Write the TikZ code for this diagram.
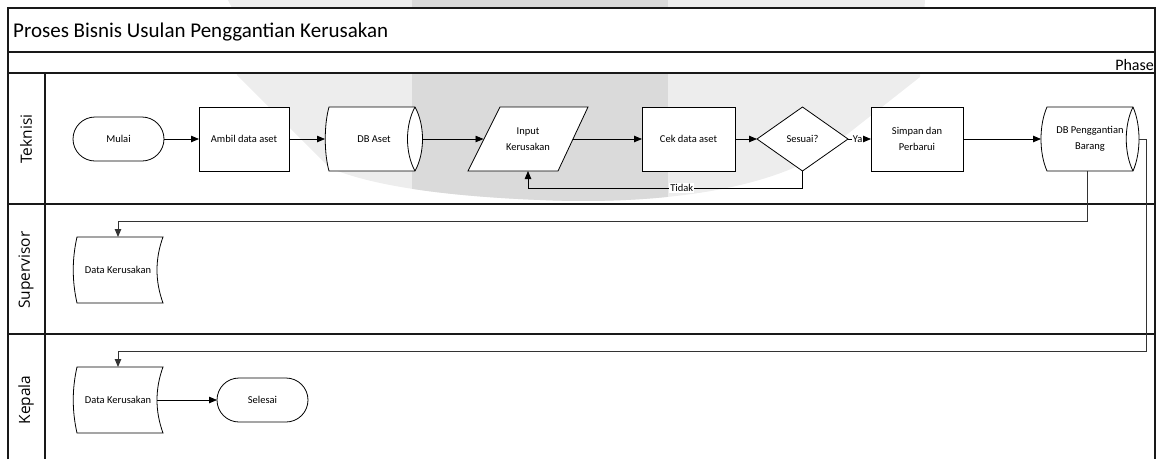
\documentclass[tikz,border=0pt]{standalone}
\usepackage{fontspec}
\setmainfont{Carlito}
\newfontfamily\lanefont{Open Sans}
\usetikzlibrary{arrows.meta}
\definecolor{wmlight}{HTML}{EDEDED}
\definecolor{wmdark}{HTML}{DADADA}
\tikzset{
  lane/.style={line width=1.3pt, draw=black!90},
  shp/.style={draw=black, line width=0.8pt, fill=white},
  txt/.style={font=\fontsize{10.5}{15.5}\selectfont, align=center, inner sep=0pt, outer sep=0pt},
  proc/.style={txt, shp, minimum width=#1, minimum height=64pt},
  term/.style={txt, shp, rounded corners=22pt, minimum width=91pt, minimum height=44pt},
  flow/.style={line width=0.8pt, draw=black, -{Triangle[length=8pt,width=6.5pt]}},
  far/.style={line width=0.9pt, draw=black!80, -{Triangle[length=8pt,width=6.5pt]}},
  lbl/.style={fill=white, inner sep=1pt, font=\fontsize{10.5}{12}\selectfont},
  lanelbl/.style={rotate=90, font=\lanefont\fontsize{15.5}{17}\selectfont, inner sep=0pt}
}
\begin{document}
\begin{tikzpicture}[x=1pt,y=-1pt]
\useasboundingbox (0,0) rectangle (1163,459);
% watermark
\def\wmpath{(228,0) -- (925,0) -- (920,77) -- (840,140) .. controls (780,192) and (650,205) .. (540,200) .. controls (440,196) and (370,185) .. (330,168) -- (237,75) -- (232,8) -- cycle}
\fill[wmlight] \wmpath;
\begin{scope}
  \clip \wmpath;
  \fill[wmdark] (412,0) rectangle (668,210);
\end{scope}
% frame
\fill[white] (8,8) rectangle (1155,73);
\draw[lane] (8,459) -- (8,8) -- (1155,8) -- (1155,459);
\draw[lane] (8,52) -- (1155,52);
\draw[lane] (8,73) -- (1155,73);
\draw[lane] (8,204) -- (1155,204);
\draw[lane] (8,334) -- (1155,334);
\draw[lane] (45,73) -- (45,459);
\node[anchor=base west, font=\fontsize{21}{24}\selectfont, inner sep=0pt] (title) at (13,37) {Proses Bisnis Usulan Penggantian Kerusakan};
\node[anchor=base east, font=\fontsize{16}{18}\selectfont, inner sep=0pt] (phase) at (1154,70) {Phase};
\node[lanelbl] (l1) at (26,139) {Teknisi};
\node[lanelbl] (l2) at (26,270) {Supervisor};
\node[lanelbl] (l3) at (26,400) {Kepala};
% special shape outlines
\coordinate (cdba) at (374,139);
\draw[shp, shift={(cdba)}] (-45,-32) -- (41,-32) .. controls (51,-14) and (51,14) .. (41,32) -- (-45,32) .. controls (-50,14) and (-50,-14) .. (-45,-32) -- cycle;
\draw[line width=0.8pt, shift={(cdba)}] (41,-32) .. controls (31,-14) and (31,14) .. (41,32);
\coordinate (cinp) at (528,139);
\draw[shp, shift={(cinp)}] (-28,-32) -- (60,-32) -- (30,32) -- (-60,32) -- cycle;
\coordinate (cses) at (802.5,139);
\draw[shp, shift={(cses)}] (0,-32) -- (45.5,0) -- (0,32) -- (-45.5,0) -- cycle;
\coordinate (cdbp) at (1090,139);
\draw[shp, shift={(cdbp)}] (-43,-32) -- (43,-32) .. controls (51,-14) and (51,14) .. (43,32) -- (-43,32) .. controls (-51,14) and (-51,-14) .. (-43,-32) -- cycle;
\draw[line width=0.8pt, shift={(cdbp)}] (43,-32) .. controls (34,-14) and (34,14) .. (43,32);
\coordinate (cdk1) at (118,270);
\draw[shp, shift={(cdk1)}] (-41,-33) -- (45,-33) .. controls (37,-11) and (37,11) .. (45,33) -- (-41,33) .. controls (-46,11) and (-46,-11) .. (-41,-33) -- cycle;
\coordinate (cdk2) at (118,400);
\draw[shp, shift={(cdk2)}] (-41,-33) -- (45,-33) .. controls (37,-11) and (37,11) .. (45,33) -- (-41,33) .. controls (-46,11) and (-46,-11) .. (-41,-33) -- cycle;
% nodes
\node[term] (mulai) at (118.5,139) {Mulai};
\node[proc=90pt] (ambil) at (244,139) {Ambil data aset};
\node[txt, minimum width=98pt, minimum height=64pt] (dbaset) at (cdba) {DB Aset};
\node[txt, minimum width=89pt, minimum height=64pt] (inp) at (cinp) {Input\\Kerusakan};
\node[proc=93pt] (cek) at (688.5,139) {Cek data aset};
\node[txt, minimum width=91pt, minimum height=64pt] (ses) at (cses) {Sesuai?};
\node[proc=92pt] (simpan) at (917,139) {Simpan dan\\Perbarui};
\node[txt, minimum width=98pt, minimum height=64pt] (dbpg) at (cdbp) {DB Penggantian\\Barang};
\node[txt, minimum width=90pt, minimum height=66pt] (dk1) at (cdk1) {Data Kerusakan};
\node[txt, minimum width=90pt, minimum height=66pt] (dk2) at (cdk2) {Data Kerusakan};
\node[term] (selesai) at (262.5,400) {Selesai};
\coordinate (r1) at (1146,351);
% connectors
\draw[flow] (mulai.east) -- (ambil.west);
\draw[flow] (ambil.east) -- (dbaset.west);
\draw[flow] (dbaset.east) -- (inp.west);
\draw[flow] (inp.east) -- (cek.west);
\draw[flow] (cek.east) -- (ses.west);
\draw[flow] (ses.east) -- node[lbl, pos=0.42] {Ya} (simpan.west);
\draw[flow] (simpan.east) -- (dbpg.west);
\draw[flow] (ses.south) -- ++(0,17) -| node[lbl, pos=0.22] {Tidak} (inp.south);
\draw[far] ([xshift=-3pt]dbpg.south) -- ++(0,50) -| (dk1.north);
\draw[far] (dbpg.east) -| (r1) -| (dk2.north);
\draw[flow] ([xshift=-6pt]dk2.east) -- (selesai.west);
\end{tikzpicture}
\end{document}
